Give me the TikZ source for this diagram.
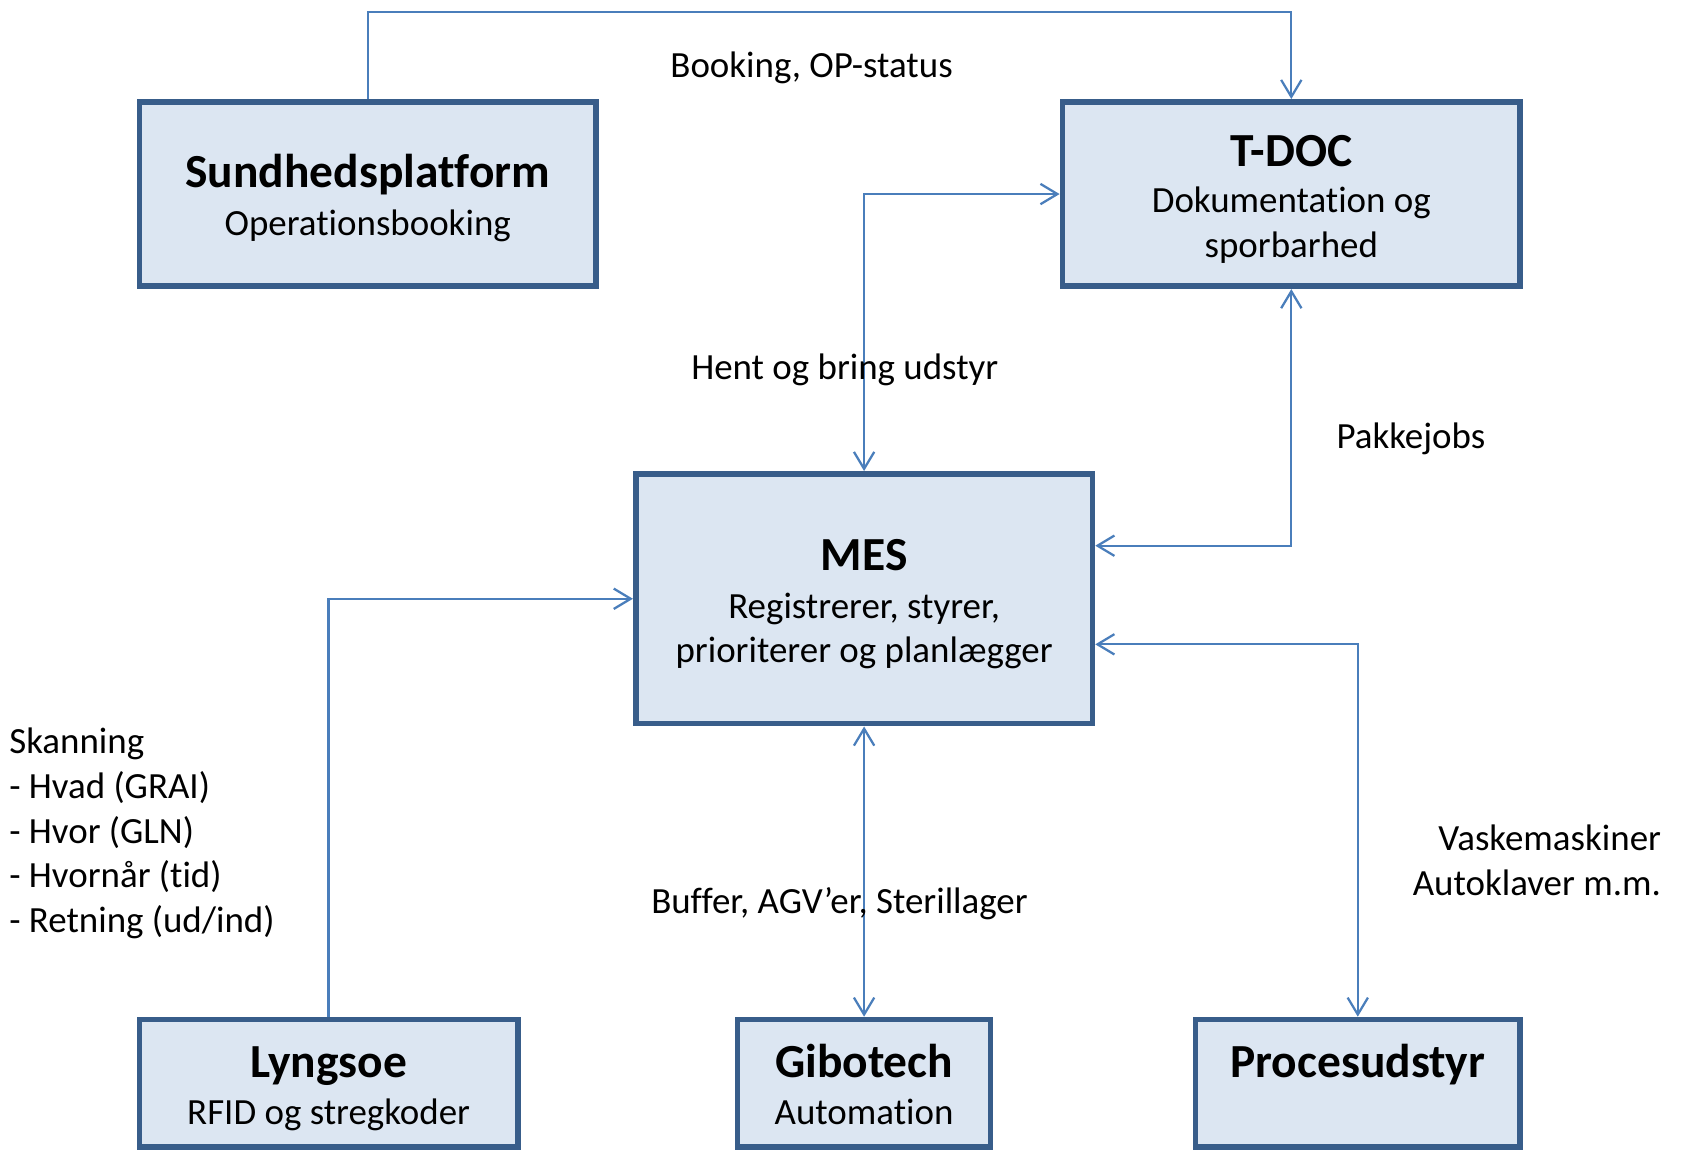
\documentclass[tikz,border=0pt]{standalone}
\usepackage{fontspec}
\setmainfont{Carlito}[Ligatures=NoCommon]
\usetikzlibrary{arrows.meta}
\definecolor{boxfill}{HTML}{DCE6F2}
\definecolor{boxdraw}{HTML}{385D8A}
\definecolor{conncol}{HTML}{4A7EBB}
\tikzset{
  sysbox/.style={draw=boxdraw, fill=boxfill, line width=1.5pt, rectangle, inner sep=0pt},
  ttl/.style={font=\fontsize{12.6}{15}\selectfont\bfseries, anchor=base, inner sep=0pt},
  sub/.style={font=\fontsize{9.8}{11.9}\selectfont, anchor=base, inner sep=0pt},
  lbl/.style={font=\fontsize{9.8}{11.9}\selectfont, inner sep=0pt},
  conn/.style={draw=conncol, line width=0.6pt},
  tip/.tip={Straight Barb[length=4.5pt,width=5.4pt,line width=0.6pt]}
}
\begin{document}
\begin{tikzpicture}[x=1cm,y=1cm]
\useasboundingbox (0,0) rectangle (15.68,-10.755);
% boxes
\node[sysbox, minimum width=4.26cm, minimum height=1.72cm] (sp) at (3.43,-1.81) {};
\node[sysbox, minimum width=4.27cm, minimum height=1.72cm] (tdoc) at (12.045,-1.81) {};
\node[sysbox, minimum width=4.26cm, minimum height=2.33cm] (mes) at (8.06,-5.585) {};
\node[sysbox, minimum width=3.53cm, minimum height=1.19cm] (ly) at (3.065,-10.105) {};
\node[sysbox, minimum width=2.36cm, minimum height=1.19cm] (gib) at (8.06,-10.105) {};
\node[sysbox, minimum width=3.03cm, minimum height=1.19cm] (pro) at (12.665,-10.105) {};
% box texts
\node[ttl] (spt) at (3.43,-1.75) {Sundhedsplatform};
\node[sub] (sps) at (3.43,-2.20) {Operationsbooking};
\node[ttl] (tdt) at (12.045,-1.55) {T-DOC};
\node[sub] (tds1) at (12.045,-1.98) {Dokumentation og};
\node[sub] (tds2) at (12.045,-2.40) {sporbarhed};
\node[ttl] (mest) at (8.06,-5.32) {MES};
\node[sub] (mess1) at (8.06,-5.77) {Registrerer, styrer,};
\node[sub] (mess2) at (8.06,-6.18) {prioriterer og planlægger};
\node[ttl] (lyt) at (3.065,-10.05) {Lyngsoe};
\node[sub] (lys) at (3.065,-10.49) {RFID og stregkoder};
\node[ttl] (gibt) at (8.06,-10.05) {Gibotech};
\node[sub] (gibs) at (8.06,-10.49) {Automation};
\node[ttl] (prot) at (12.665,-10.05) {Procesudstyr};
% connectors
\coordinate (topy) at (0,-0.11);
\draw[conn,-tip] (sp.north) -- (sp.north |- topy) -| (tdoc.north);
\draw[conn,tip-tip] (mes.north) |- (tdoc.west);
\draw[conn,tip-tip] (tdoc.south) |- ([yshift=0.495cm]mes.east);
\draw[conn,tip-tip] ([yshift=-0.425cm]mes.east) -| (pro.north);
\draw[conn,-tip] (ly.north) |- (mes.west);
\draw[conn,tip-tip] (mes.south) -- (gib.north);
% labels
\node[lbl, anchor=base] (l1) at (7.57,-0.72) {Booking, OP-status};
\node[lbl, anchor=base] (l2) at (7.88,-3.54) {Hent og bring udstyr};
\node[lbl, anchor=base] (l3) at (13.16,-4.18) {Pakkejobs};
\node[lbl, anchor=base] (l4) at (7.83,-8.52) {Buffer, AGV’er, Sterillager};
\node[lbl, anchor=base east] (l5a) at (15.50,-7.93) {Vaskemaskiner};
\node[lbl, anchor=base east] (l5b) at (15.50,-8.35) {Autoklaver m.m.};
\node[lbl, anchor=base west] (s1) at (0.08,-7.03) {Skanning};
\node[lbl, anchor=base west] (s2) at (0.08,-7.45) {- Hvad (GRAI)};
\node[lbl, anchor=base west] (s3) at (0.08,-7.87) {- Hvor (GLN)};
\node[lbl, anchor=base west] (s4) at (0.08,-8.28) {- Hvornår (tid)};
\node[lbl, anchor=base west] (s5) at (0.08,-8.70) {- Retning (ud/ind)};
\end{tikzpicture}
\end{document}
